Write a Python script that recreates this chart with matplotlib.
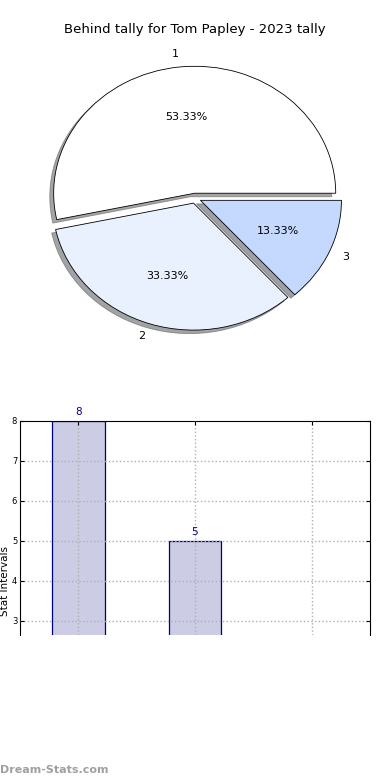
import numpy as np
import matplotlib
matplotlib.use('Agg')
import matplotlib.pyplot as plt

# data
labels = ['1', '2', '3']
tally = [8, 5, 2]
pie_colors = ['#ffffff', '#eaf1fe', '#c5d8fe']
bar_pos = np.arange(len(tally))

fig = plt.figure(figsize=(3.9, 7.8), dpi=100)
fig.text(0.5, 1 - 30/780, 'Behind tally for Tom Papley - 2023 tally', ha='center', va='center', fontsize=9.5)

# pie (top)
ax1 = fig.add_axes([0.0487, 0.5423, 0.904, 0.407])
wedges, txts, pcts = ax1.pie(tally, labels=labels, colors=pie_colors, autopct='%.2f%%',
                             explode=[0.04, 0.04, 0.04], shadow=True, startangle=0,
                             wedgeprops={'edgecolor': 'black', 'linewidth': 0.6},
                             textprops={'fontsize': 8})
ax1.set_aspect('auto')
ax1.set_xlim(-1.25, 1.25)
ax1.set_ylim(-1.25, 1.25)

# bars (bottom, cropped)
ax2 = fig.add_axes([0.0513, 0.1859, 0.897, 0.2744])
ax2.bar(bar_pos, tally, width=0.45, color='#ccccE4', edgecolor='#000080', linewidth=0.9, zorder=2)
ylo = 2.65
for x, v in zip(bar_pos, tally):
    if v < ylo:
        continue  # falls in the cropped part
    ax2.annotate(str(v), (x, v), xytext=(0, 3), textcoords='offset points',
                 ha='center', va='bottom', fontsize=7.5, color='#000080', annotation_clip=False)
ax2.set_xlim(-0.5, 2.5)
ax2.set_ylim(ylo, 8)
ax2.set_yticks([3, 4, 5, 6, 7, 8])
ax2.set_xticks(bar_pos)
ax2.set_xticklabels([])
ax2.grid(True, linestyle=':', color='#b0b0b0', linewidth=1)
ax2.set_axisbelow(False)
ax2.yaxis.get_gridlines()[-1].set_visible(False)  # keep top spine solid
ax2.tick_params(axis='y', labelsize=6, direction='in', length=3, right=True, pad=2)
ax2.tick_params(axis='x', direction='in', length=3, top=True, bottom=False)
ax2.spines['bottom'].set_visible(False)
ax2.set_ylabel('Stat Intervals', fontsize=7.5)
ax2.yaxis.set_label_coords(-0.028, 0.25)

fig.text(0.0, 1 - 770/780, 'Dream-Stats.com', ha='left', va='center', fontsize=8,
         color='#a0a0a0', fontweight='bold')

fig.savefig('out.png', dpi=100)
